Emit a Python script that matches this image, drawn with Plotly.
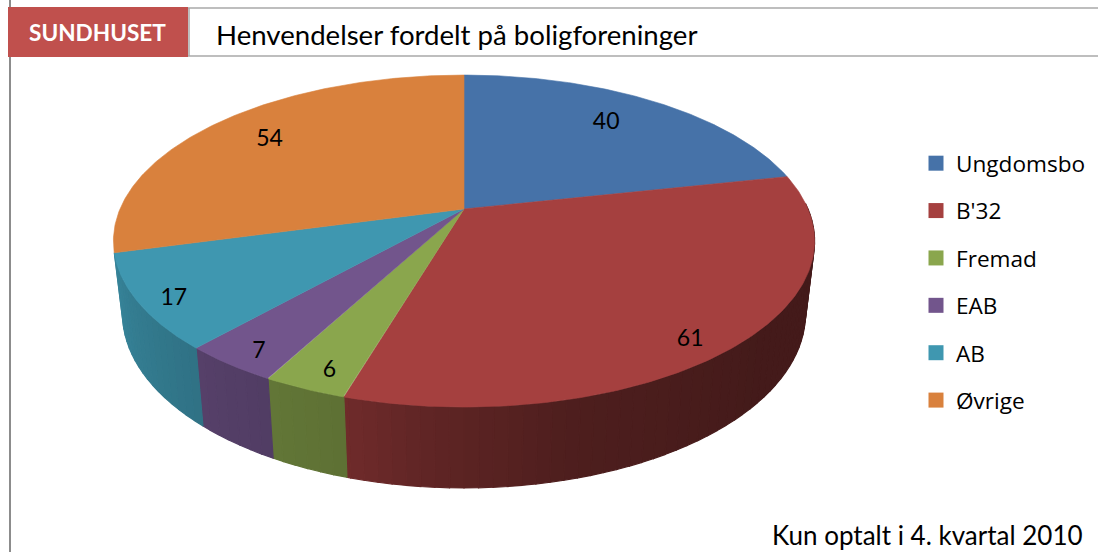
import numpy as np
import plotly.graph_objects as go

# ---- data ----
CATEGORIES = ["Ungdomsbo", "B'32", "Fremad", "EAB", "AB", "Øvrige"]
VALUES = [40, 61, 6, 7, 17, 54]

# ---- style ----
COLORS = ["#4672a8", "#a5403f", "#8aa64d", "#72558c", "#3f97b0", "#d9813d"]
LABEL_RADII = [0.77, 0.90, 0.90, 0.91, 0.91, 0.79]
LABEL_NUDGE = [-2, 3.6, -1, -1, -1.4, 1]
LABEL_DY = 2.5
SHADE_ANGLE = [90, 130, 165, 185, 197, 215, 235, 256]
SHADE_VALUE = [0.41, 0.41, 0.47, 0.58, 0.68, 0.73, 0.80, 0.87]
FONT = "Lato"
CX, CY = 464, 209          # apex on screen
A, B, K = 344, 159.8, 0.193  # perspective projection of the disc
DROP, SX, SY = 71, 0.974, 1.05  # lower rim relative to the top disc


def top(theta_deg, r=1.0):
    t = np.radians(np.asarray(theta_deg, dtype=float))
    X, Y = r * np.sin(t), r * np.cos(t)
    d = 1 + K * Y
    return CX + A * X / d, CY - B * Y / d


def rim(theta_deg):
    x, y = top(theta_deg)
    return CX + SX * (x - CX), CY + DROP + SY * (y - CY)


def shade(hex_color, f):
    rgb = [int(hex_color[i:i + 2], 16) for i in (1, 3, 5)]
    return "rgb({},{},{})".format(*[int(round(c * f)) for c in rgb])


fig = go.Figure()
total = sum(VALUES)
edges = np.concatenate([[0], np.cumsum(VALUES)]) / total * 360

# side wall, visible between the right tangent and the left end of AB
VIS_START, VIS_END = 88, edges[5]
for i, col in enumerate(COLORS):
    a0, a1 = max(edges[i], VIS_START), min(edges[i + 1], VIS_END)
    if a1 <= a0:
        continue
    steps = np.arange(a0, a1, 2.0).tolist() + [a1]
    for s0, s1 in zip(steps[:-1], steps[1:]):
        th = np.linspace(s0, s1, 4)
        xt, yt = top(th)
        xb, yb = rim(th)
        c = shade(col, float(np.interp((s0 + s1) / 2, SHADE_ANGLE, SHADE_VALUE)))
        fig.add_trace(go.Scatter(
            x=np.r_[xt, xb[::-1], xt[0]], y=np.r_[yt, yb[::-1], yt[0]],
            mode="lines", fill="toself", fillcolor=c, line=dict(color=c, width=1.2),
            hoverinfo="skip", showlegend=False))

# top face
for i, col in enumerate(COLORS):
    th = np.linspace(edges[i], edges[i + 1], 160)
    x, y = top(th)
    fig.add_trace(go.Scatter(
        x=np.r_[CX, x, CX], y=np.r_[CY, y, CY],
        mode="lines", fill="toself", fillcolor=col, line=dict(color=col, width=0.6),
        hoverinfo="skip", showlegend=False))

# data labels
for i, v in enumerate(VALUES):
    mid = (edges[i] + edges[i + 1]) / 2 + LABEL_NUDGE[i]
    lx, ly = top([mid], LABEL_RADII[i])
    fig.add_trace(go.Scatter(
        x=lx, y=ly + LABEL_DY, mode="text", text=[str(v)], textposition="middle center",
        textfont=dict(family=FONT, size=23, color="#000000"),
        hoverinfo="skip", showlegend=False))

# legend entries
for name, col in zip(CATEGORIES, COLORS):
    fig.add_trace(go.Scatter(
        x=[None], y=[None], mode="markers", name=name, legendgroup=name,
        marker=dict(symbol="square", size=15, color=col)))

GREY = "#a9a9a9"
shapes = [
    dict(type="line", x0=10, x1=10, y0=0, y1=552, line=dict(color="#8c8c8c", width=2)),
    dict(type="line", x0=188, x1=1098, y0=8, y1=8, line=dict(color=GREY, width=1.5)),
    dict(type="line", x0=188, x1=1098, y0=56, y1=56, line=dict(color=GREY, width=1.5)),
    dict(type="line", x0=189, x1=189, y0=8, y1=56, line=dict(color=GREY, width=1.5)),
    dict(type="rect", x0=8, x1=188, y0=7, y1=57, fillcolor="#c0504d", line=dict(width=0)),
]
annotations = [
    dict(x=97, y=32, text="<b>SUNDHUSET</b>", showarrow=False, xanchor="center", yanchor="middle",
         font=dict(family=FONT, size=22.6, color="#ffffff")),
    dict(x=214, y=34, text="Henvendelser fordelt på boligforeninger", showarrow=False,
         xanchor="left", yanchor="middle", font=dict(family=FONT, size=27.6, color="#000000")),
    dict(x=1085, y=535, text="Kun optalt i 4. kvartal 2010", showarrow=False,
         xanchor="right", yanchor="middle", font=dict(family=FONT, size=26, color="#000000")),
]

fig.update_layout(
    width=1098, height=552, margin=dict(l=0, r=0, t=0, b=0),
    paper_bgcolor="#ffffff", plot_bgcolor="#ffffff",
    xaxis=dict(range=[0, 1098], visible=False, fixedrange=True),
    yaxis=dict(range=[552, 0], visible=False, fixedrange=True),
    shapes=shapes, annotations=annotations,
    legend=dict(x=916 / 1098, y=1 - 142 / 552, xanchor="left", yanchor="top",
                tracegroupgap=15, bgcolor="rgba(0,0,0,0)",
                font=dict(family="Open Sans", size=22.6, color="#000000")),
    showlegend=True,
)

fig.write_html("out.html", config={"displayModeBar": False},
               post_script="document.body.style.margin='0';document.body.style.overflow='hidden';")
